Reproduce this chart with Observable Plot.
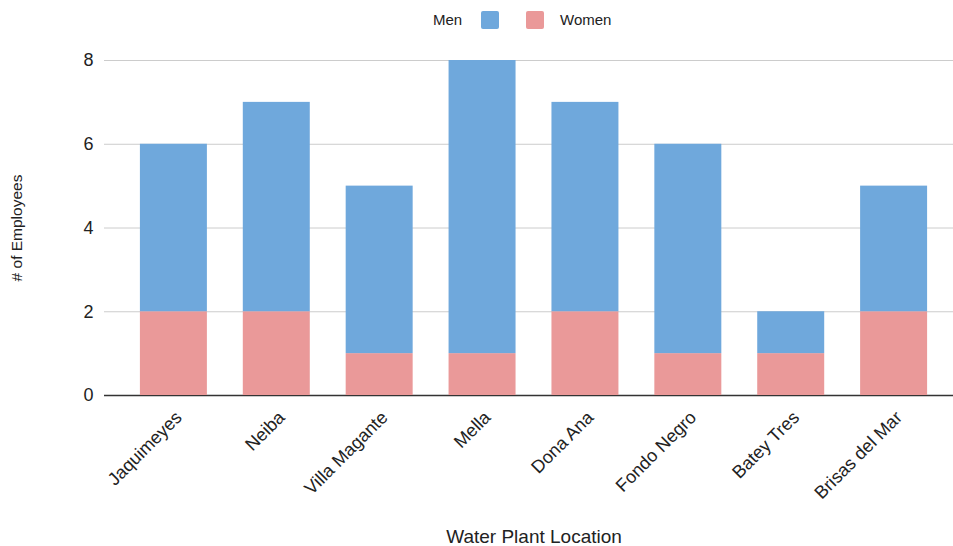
<!DOCTYPE html>
<html>
<head>
<meta charset="utf-8">
<script src="https://cdn.jsdelivr.net/npm/d3@7"></script>
<script src="https://cdn.jsdelivr.net/npm/@observablehq/plot@0.6"></script>
<style>
  html, body { margin: 0; padding: 0; background: #fff; }
  body { width: 953px; height: 546px; overflow: hidden; font-family: "Liberation Sans", Arial, sans-serif; }
  .legend { height: 40px; position: relative; font-size: 15px; color: #222; }
  .legend span { position: absolute; top: 11px; }
  .legend .sw { width: 18px; height: 18px; border-radius: 2px; top: 11px; }
</style>
</head>
<body>
<div class="legend">
  <span style="left:433px">Men</span>
  <span class="sw" style="left:481px;background:#6fa8dc"></span>
  <span class="sw" style="left:526px;background:#ea9999"></span>
  <span style="left:560px">Women</span>
</div>
<div id="chart"></div>
<script>
// Employees per water plant, split by gender
const locations = ["Jaquimeyes", "Neiba", "Villa Magante", "Mella", "Dona Ana", "Fondo Negro", "Batey Tres", "Brisas del Mar"];
const men = [4, 5, 4, 7, 5, 5, 1, 3];
const women = [2, 2, 1, 1, 2, 1, 1, 2];
const yTicks = [0, 2, 4, 6, 8];

const rows = locations.flatMap((loc, i) => [
  {location: loc, group: "Women", count: women[i]},
  {location: loc, group: "Men", count: men[i]}
]);

const chart = Plot.plot({
  width: 953,
  height: 506,
  marginTop: 20,
  marginBottom: 151,
  marginLeft: 104,
  marginRight: 0,
  style: {fontFamily: "'Liberation Sans', Arial, sans-serif", color: "#222", background: "#fff"},
  x: {domain: locations, range: [104, 963], paddingInner: 0.349, paddingOuter: 0.349, round: false, label: null},
  y: {domain: [0, 8], label: null},
  color: {domain: ["Men", "Women"], range: ["#6fa8dc", "#ea9999"]},
  marks: [
    Plot.ruleY(yTicks.filter(d => d > 0), {stroke: "#cccccc", strokeWidth: 1}),
    Plot.ruleY([0], {stroke: "#333", strokeWidth: 1.5}),
    Plot.barY(rows, {x: "location", y: "count", fill: "group", order: ["Women", "Men"]}),
    Plot.axisY({ticks: yTicks, tickSize: 0, tickPadding: 11, fontSize: 18, label: null, tickFormat: d => d}),
    Plot.axisX({tickRotate: -45, tickSize: 0, tickPadding: 19, dx: 5, fontSize: 18, label: null}),
    Plot.text(["# of Employees"], {frameAnchor: "left", textAnchor: "middle", rotate: -90, dx: -87, fontSize: 15.5, fill: "#222"}),
    Plot.text(["Water Plant Location"], {frameAnchor: "bottom", dx: 5, dy: 147, fontSize: 19, fill: "#222"})
  ]
});
document.getElementById("chart").appendChild(chart);
</script>
</body>
</html>
